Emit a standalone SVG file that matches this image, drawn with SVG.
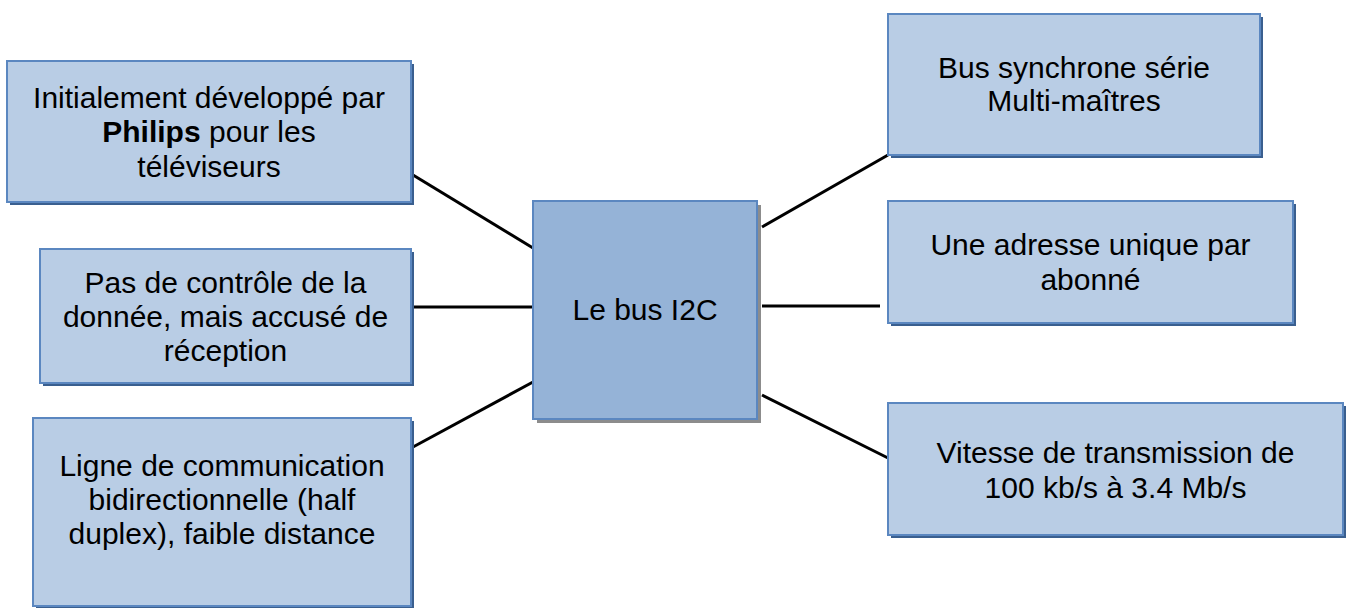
<svg xmlns="http://www.w3.org/2000/svg" width="1350" height="608" viewBox="0 0 1350 608">
<style>
.box{fill:#b9cde5;stroke:#5b87c0;stroke-width:2}
.shadow{fill:#3a5f8f}
.cbox{fill:#95b3d7;stroke:#5b87c0;stroke-width:2}
.cshadow{fill:#8c8c8c}
.t{font-family:"Liberation Sans",Arial,sans-serif;font-size:30px;fill:#000;text-anchor:middle}
.b{font-weight:bold}
.conn line{stroke:#000;stroke-width:3}
</style>
<rect width="1350" height="608" fill="#fff"/>
<g class="conn" id="connectors">
<line x1="413" y1="175" x2="533" y2="248"/>
<line x1="413" y1="307" x2="533" y2="307"/>
<line x1="413" y1="447" x2="533" y2="382"/>
<line x1="762" y1="227" x2="888" y2="155"/>
<line x1="762" y1="306" x2="880" y2="306"/>
<line x1="762" y1="395" x2="888" y2="458"/>
</g>
<g id="n-center">
<rect class="cshadow" x="537" y="205" width="224" height="218"/>
<rect class="cbox" x="533" y="201" width="224" height="218"/>
<text class="t" x="645" y="320">Le bus I2C</text>
</g>
<g id="n-philips">
<rect class="shadow" x="10" y="64" width="404" height="141"/>
<rect class="box" x="7" y="61" width="404" height="141"/>
<text class="t" x="209" y="107.5">Initialement développé par</text>
<text class="t" x="209" y="142"><tspan class="b">Philips</tspan> pour les</text>
<text class="t" x="209" y="176.5">téléviseurs</text>
</g>
<g id="n-controle">
<rect class="shadow" x="43" y="252" width="371" height="134"/>
<rect class="box" x="40" y="249" width="371" height="134"/>
<text class="t" x="225.5" y="292.5">Pas de contrôle de la</text>
<text class="t" x="225.5" y="327">donnée, mais accusé de</text>
<text class="t" x="225.5" y="361">réception</text>
</g>
<g id="n-ligne">
<rect class="shadow" x="36" y="421" width="378" height="190"/>
<rect class="box" x="33" y="418" width="378" height="188"/>
<text class="t" x="222" y="476">Ligne de communication</text>
<text class="t" x="222" y="510">bidirectionnelle (half</text>
<text class="t" x="222" y="544">duplex), faible distance</text>
</g>
<g id="n-synchrone">
<rect class="shadow" x="891" y="17" width="372" height="141"/>
<rect class="box" x="888" y="14" width="372" height="141"/>
<text class="t" x="1074" y="77.5">Bus synchrone série</text>
<text class="t" x="1074" y="111">Multi-maîtres</text>
</g>
<g id="n-adresse">
<rect class="shadow" x="891" y="204" width="405" height="122"/>
<rect class="box" x="888" y="201" width="405" height="122"/>
<text class="t" x="1090.5" y="255">Une adresse unique par</text>
<text class="t" x="1090.5" y="289.5">abonné</text>
</g>
<g id="n-vitesse">
<rect class="shadow" x="891" y="406" width="455" height="132"/>
<rect class="box" x="888" y="403" width="455" height="132"/>
<text class="t" x="1115.5" y="463">Vitesse de transmission de</text>
<text class="t" x="1115.5" y="497.5">100 kb/s à 3.4 Mb/s</text>
</g>
</svg>
